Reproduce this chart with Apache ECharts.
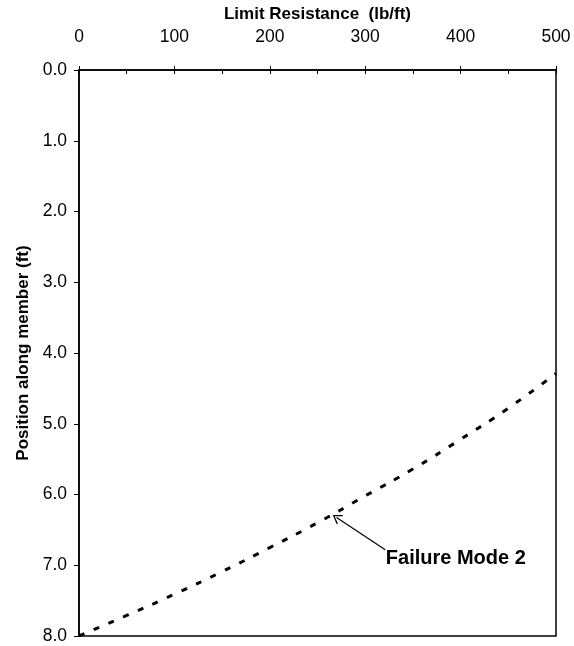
<html lang="en">

<head>
    <meta charset="UTF-8">
    <title>Failure Mode 2</title>
    <script src="https://cdn.jsdelivr.net/npm/echarts@6.0.0/dist/echarts.min.js"></script>
    <style>
        html, body { margin: 0; padding: 0; background: #fff; }
        #my-chart { width: 574px; height: 646px; }
    </style>
</head>

<body>
    <div id="my-chart"></div>
    <script>
        // limit resistance (lb/ft) vs position along member (ft)
        var resistance = [0, 50, 100, 150, 200, 250, 300, 350, 400, 450, 500];
        var position = [8.0, 7.71, 7.41, 7.09, 6.75, 6.40, 6.02, 5.64, 5.22, 4.78, 4.29];

        // annotation: text anchor and arrow tip, in data units
        var noteText = 'Failure Mode 2';
        var noteLabelAt = [395, 6.9];
        var arrowFrom = [321, 6.78];
        var arrowTo = [270, 6.325];

        var font = 'Liberation Sans, Arial, sans-serif';
        var chart = echarts.init(document.getElementById('my-chart'));

        var curve = resistance.map(function (x, i) { return [x, position[i]]; });

        // open arrow head (thin chevron)
        var openArrow = 'path://M5,0 L10,9 L9,10 L5,2.5 L1,10 L0,9 Z';

        var option = {
            animation: false,
            grid: {
                left: 79, right: 18, top: 70, bottom: 10,
                show: true, borderColor: '#000', borderWidth: 1.5
            },
            xAxis: [
                {
                    type: 'value', position: 'top',
                    min: 0, max: 500, interval: 100,
                    name: 'Limit Resistance  (lb/ft)',
                    nameLocation: 'middle', nameGap: 43,
                    nameTextStyle: { fontFamily: font, fontWeight: 'bold', fontSize: 17, color: '#000' },
                    axisLine: { show: true, lineStyle: { color: '#000', width: 1.5 } },
                    axisTick: { show: true, length: 4, lineStyle: { color: '#000' } },
                    axisLabel: { fontFamily: font, fontSize: 17.5, color: '#000', margin: 24 },
                    splitLine: { show: false }
                },
                {
                    // inner ticks, incl. minor ones at 50
                    type: 'value', position: 'top',
                    min: 0, max: 500, interval: 100,
                    axisLine: { show: false },
                    axisTick: { show: true, inside: true, length: 4, lineStyle: { color: '#000' } },
                    minorTick: { show: true, splitNumber: 2, length: 4, lineStyle: { color: '#000' } },
                    axisLabel: { show: false },
                    splitLine: { show: false }
                }
            ],
            yAxis: {
                type: 'value', inverse: true,
                min: 0, max: 8, interval: 1,
                name: 'Position along member (ft)',
                nameLocation: 'middle', nameGap: 44, nameRotate: 90,
                nameTextStyle: { fontFamily: font, fontWeight: 'bold', fontSize: 17, color: '#000' },
                axisLine: { show: true, lineStyle: { color: '#000', width: 1.5 } },
                axisTick: { show: true, length: 5, lineStyle: { color: '#000' } },
                axisLabel: {
                    fontFamily: font, fontSize: 17.5, color: '#000', margin: 12,
                    formatter: function (v) { return v.toFixed(1); }
                },
                splitLine: { show: false }
            },
            series: [
                {
                    type: 'line',
                    data: curve,
                    smooth: true,
                    symbol: 'none',
                    lineStyle: { color: '#000', width: 3, type: [6, 10] },
                    markLine: {
                        silent: true,
                        symbol: ['none', openArrow],
                        symbolSize: [11, 9],
                        lineStyle: { color: '#000', width: 1.2, type: 'solid' },
                        label: { show: false },
                        data: [[{ coord: arrowFrom }, { coord: arrowTo }]]
                    },
                    markPoint: {
                        silent: true,
                        symbol: 'circle', symbolSize: 0,
                        label: {
                            show: true, position: 'inside',
                            formatter: noteText,
                            fontFamily: font, fontWeight: 'bold', fontSize: 20, color: '#000'
                        },
                        data: [{ coord: noteLabelAt }]
                    }
                }
            ]
        };

        chart.setOption(option);
    </script>
</body>

</html>
